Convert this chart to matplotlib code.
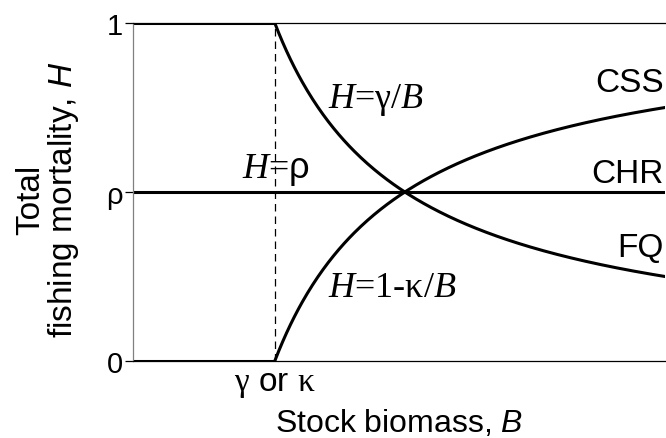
import matplotlib.pyplot as plt
import numpy as np

plt.rcParams['font.family'] = ['Liberation Sans', 'DejaVu Sans']
plt.rcParams['mathtext.fontset'] = 'custom'
plt.rcParams['mathtext.it'] = 'Liberation Serif:italic'
plt.rcParams['mathtext.rm'] = 'Liberation Serif'
plt.rcParams['mathtext.sf'] = 'Liberation Sans:italic'
plt.rcParams['mathtext.bf'] = 'Liberation Sans'

# model parameters (in units of gamma)
gamma = 1.0
kappa = 1.0
rho = 0.5
b_max = 4.0

# axis ticks
y_ticks = [0, rho, 1]
y_tick_labels = ['0', 'ρ', '1']
x_ticks = [gamma]
x_tick_labels = [r'$\mathrm{γ}$ or $\mathrm{κ}$']

fig = plt.figure(figsize=(6.66, 4.39), dpi=100)
ax = fig.add_axes([0.1997, 0.1754, 0.7988, 0.7699])

# below gamma: full closure / full mortality
b_low = np.array([-0.1, gamma])
ax.plot(b_low, [1, 1], color='black', lw=2.2, solid_capstyle='butt')
ax.plot(b_low, [0, 0], color='black', lw=2.2, solid_capstyle='butt')

# strategies above gamma
b = np.linspace(gamma, b_max, 300)
ax.plot(b, gamma / b, color='black', lw=2.2)          # FQ
ax.plot(b, 1 - kappa / b, color='black', lw=2.2)      # CSS
ax.plot([-0.1, b_max], [rho, rho], color='black', lw=2.2)  # CHR

ax.plot([gamma, gamma], [0, 1], color='black', lw=0.9, ls=(0, (6, 4)))

ax.set_xlim(-0.09, b_max)
ax.set_ylim(0, 1)

# curve labels (serif text, italic H and B)
lab_kw = dict(fontsize=26, family='Liberation Serif', va='baseline')
ax.text(1.41, 0.751, r'$H$=γ/$B$', **lab_kw)
ax.text(0.75, 0.544, r'$H$=$\mathbf{ρ}$', **lab_kw)
ax.text(1.41, 0.192, r'$H$=1-κ/$B$', **lab_kw)

name_kw = dict(fontsize=24, ha='right', va='baseline')
ax.text(b_max - 0.01, 0.80, 'CSS', **name_kw)
ax.text(b_max - 0.01, 0.530, 'CHR', **name_kw)
ax.text(b_max - 0.01, 0.311, 'FQ', **name_kw)

ax.set_yticks(y_ticks)
ax.set_yticklabels(y_tick_labels, fontsize=21)
ax.set_xticks(x_ticks)
ax.set_xticklabels(x_tick_labels, fontsize=24)
ax.tick_params(axis='y', length=6, width=0.9, color='black', pad=1.5)
ax.tick_params(axis='x', length=0, pad=5)

ax.spines['left'].set_color('#808080')
ax.spines['left'].set_linewidth(0.9)
ax.spines['right'].set_visible(False)
ax.spines['top'].set_linewidth(0.9)
ax.spines['bottom'].set_linewidth(0.9)

ax.set_xlabel(r'Stock biomass, $\mathsf{B}$', fontsize=23, labelpad=6)
ax.set_ylabel('Total\nfishing mortality, $\\mathsf{H}$', fontsize=24, labelpad=18,
              linespacing=1.0)
ax.yaxis.label.set_y(0.48)

fig.savefig('out.png', dpi=100)
